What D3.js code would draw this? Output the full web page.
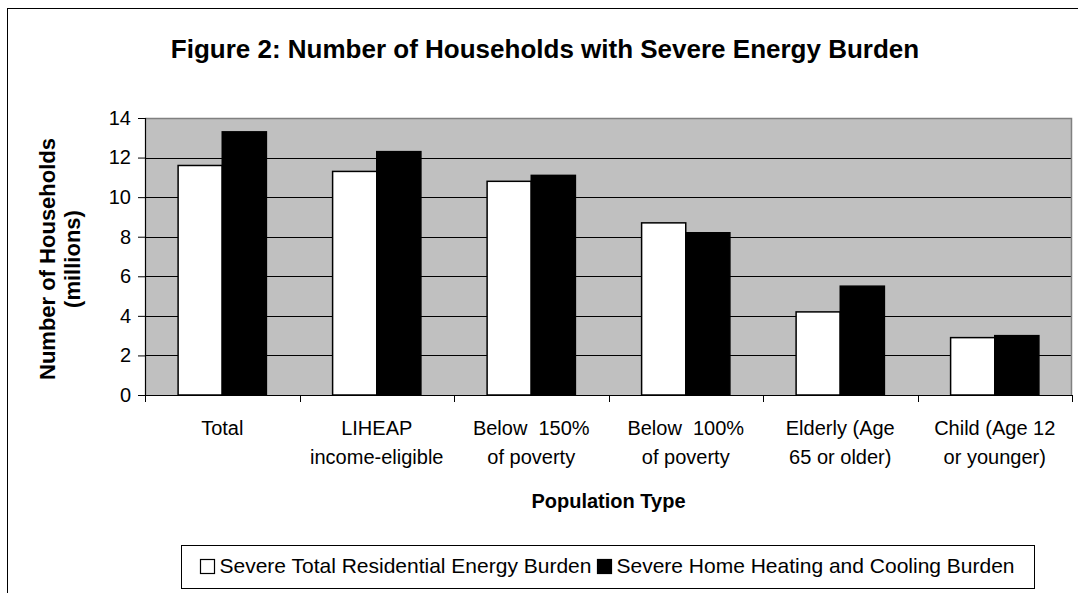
<!DOCTYPE html>
<html>
<head>
<meta charset="utf-8">
<script src="https://cdn.jsdelivr.net/npm/d3@7"></script>
<style>
  html, body { margin: 0; padding: 0; background: #fff; }
  svg { display: block; font-family: "Liberation Sans", Arial, sans-serif; }
  text { white-space: pre; }
</style>
</head>
<body>
<svg id="chart" width="1078" height="593"></svg>
<script>
const categories = ["Total", "LIHEAP income-eligible", "Below 150% of poverty", "Below 100% of poverty", "Elderly (Age 65 or older)", "Child (Age 12 or younger)"];
const categoryLabels = [["Total"], ["LIHEAP", "income-eligible"], ["Below  150%", "of poverty"], ["Below  100%", "of poverty"], ["Elderly (Age", "65 or older)"], ["Child (Age 12", "or younger)"]];
const seriesNames = ["Severe Total Residential Energy Burden", "Severe Home Heating and Cooling Burden"];
const totalBurden = [11.6, 11.3, 10.8, 8.7, 4.2, 2.9];
const heatCoolBurden = [13.3, 12.3, 11.1, 8.2, 5.5, 3.0];
const yTicks = [0, 2, 4, 6, 8, 10, 12, 14];

const seriesFill = ["#ffffff", "#000000"];
const seriesValues = [totalBurden, heatCoolBurden];

const svg = d3.select("#chart");
const plot = { left: 145, right: 1072, top: 118, bottom: 395 };

// outer chart-area border
svg.append("rect").attr("x", 7.5).attr("y", 8.5).attr("width", 1200).attr("height", 700)
  .attr("fill", "#fff").attr("stroke", "#000").attr("stroke-width", 1);

// title
svg.append("text").attr("x", 545).attr("y", 58).attr("text-anchor", "middle")
  .attr("font-size", 26).attr("font-weight", "bold").text("Figure 2: Number of Households with Severe Energy Burden");

const x = d3.scaleBand().domain(categories).range([plot.left, plot.right]).paddingInner(0).paddingOuter(0);
const xs = d3.scaleBand().domain(d3.range(seriesNames.length)).range([0, x.bandwidth()]).paddingInner(0).paddingOuter(0.75);
const y = d3.scaleLinear().domain([0, 14]).range([plot.bottom, plot.top]);

// plot background
svg.append("rect").attr("x", plot.left).attr("y", plot.top)
  .attr("width", plot.right - plot.left).attr("height", plot.bottom - plot.top).attr("fill", "#c0c0c0");

// gridlines
svg.append("g").selectAll("line").data(yTicks.filter(d => d > 0 && d < 14)).join("line")
  .attr("x1", plot.left).attr("x2", plot.right)
  .attr("y1", d => Math.round(y(d)) + 0.5).attr("y2", d => Math.round(y(d)) + 0.5)
  .attr("stroke", "#000").attr("stroke-width", 1);

// plot border top/right (gray)
svg.append("path").attr("d", `M${plot.left},${plot.top + 0.5}H${plot.right - 0.5}V${plot.bottom}`)
  .attr("fill", "none").attr("stroke", "#808080").attr("stroke-width", 1.5);

// bars
const data = [];
categories.forEach((c, i) => seriesValues.forEach((vals, s) => data.push({ c, s, v: vals[i] })));
svg.append("g").selectAll("rect").data(data).join("rect")
  .attr("x", d => x(d.c) + xs(d.s))
  .attr("y", d => y(d.v))
  .attr("width", xs.bandwidth())
  .attr("height", d => y(0) - y(d.v))
  .attr("fill", d => seriesFill[d.s])
  .attr("stroke", "#000").attr("stroke-width", 1.5);

// y axis
const yAxis = svg.append("g").attr("transform", `translate(${plot.left},0)`)
  .call(d3.axisLeft(y).tickValues(yTicks).tickSize(7).tickPadding(7).tickFormat(d3.format("d")));
yAxis.select(".domain").attr("stroke", "#000").attr("stroke-width", 1.2).attr("d", `M0.5,${plot.top}V${plot.bottom}`);
yAxis.selectAll(".tick line").attr("stroke", "#000");
yAxis.selectAll(".tick text").attr("font-size", 20).attr("font-family", "Liberation Sans, Arial, sans-serif").attr("fill", "#000");

// x axis
const xAxis = svg.append("g").attr("transform", `translate(0,${plot.bottom})`);
xAxis.append("line").attr("x1", plot.left).attr("x2", plot.right).attr("y1", 0.5).attr("y2", 0.5)
  .attr("stroke", "#000").attr("stroke-width", 1.2);
const boundaries = categories.map(c => x(c)).concat([plot.right]);
xAxis.selectAll("line.tk").data(boundaries).join("line").attr("class", "tk")
  .attr("x1", d => Math.round(d) + 0.5).attr("x2", d => Math.round(d) + 0.5).attr("y1", 0).attr("y2", 7)
  .attr("stroke", "#000");

const labelG = svg.append("g");
categories.forEach((c, i) => {
  const t = labelG.append("text").attr("text-anchor", "middle").attr("font-size", 20)
    .attr("x", x(c) + x.bandwidth() / 2);
  categoryLabels[i].forEach((line, j) => {
    t.append("tspan").attr("x", x(c) + x.bandwidth() / 2).attr("y", 435 + j * 29).text(line);
  });
});

// axis titles
svg.append("text").attr("x", (plot.left + plot.right) / 2).attr("y", 508).attr("text-anchor", "middle")
  .attr("font-size", 20).attr("font-weight", "bold").text("Population Type");

const yt = svg.append("text").attr("transform", `translate(55,259) rotate(-90)`)
  .attr("text-anchor", "middle").attr("font-size", 22).attr("font-weight", "bold");
yt.append("tspan").attr("x", 0).attr("y", 0).text("Number of Households");
yt.append("tspan").attr("x", 0).attr("y", 25).text("(millions)");

// legend
const lg = svg.append("g");
const lgBox = { x: 181, y: 545, w: 853, h: 43 };
lg.append("rect").attr("x", lgBox.x + 0.5).attr("y", lgBox.y + 0.5).attr("width", lgBox.w).attr("height", lgBox.h)
  .attr("fill", "#fff").attr("stroke", "#000").attr("stroke-width", 1);
const lgFont = 21;
const items = lg.selectAll("g.item").data(seriesNames).join("g").attr("class", "item");
items.append("rect").attr("y", lgBox.y + 14.5).attr("width", 14).attr("height", 14)
  .attr("fill", (d, s) => seriesFill[s]).attr("stroke", "#000").attr("stroke-width", 1.2);
items.append("text").attr("y", lgBox.y + 28).attr("font-size", lgFont).text(d => d);
const widths = items.nodes().map(n => 14 + 5 + d3.select(n).select("text").node().getComputedTextLength());
const gap = 6;
const totalW = d3.sum(widths) + gap * (widths.length - 1);
let cx = lgBox.x + (lgBox.w - totalW) / 2;
items.each(function(d, s) {
  d3.select(this).select("rect").attr("x", Math.round(cx) + 0.5);
  d3.select(this).select("text").attr("x", cx + 19);
  cx += widths[s] + gap;
});
</script>
</body>
</html>
